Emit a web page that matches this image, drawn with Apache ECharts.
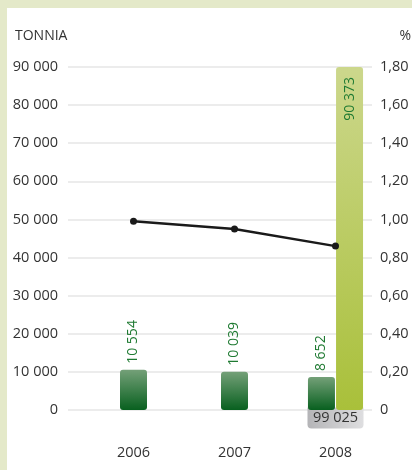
<!DOCTYPE html>
<html>
<head>
<meta charset="utf-8">
<script src="https://cdn.jsdelivr.net/npm/echarts@6/dist/echarts.min.js"></script>
<style>
  html, body { margin: 0; padding: 0; background: #e4e9c9; }
  #chart { position: absolute; left: 7px; top: 8px; width: 405px; height: 462px; background: #fff; }
</style>
</head>
<body>
<div id="chart"></div>
<script>
// data
var years = ['2006', '2007', '2008'];
var tonnes = [10554, 10039, 8652];
var tonnesOther = [null, null, 90373];
var percent = [0.99, 0.95, 0.86];
var tonTicks = { min: 0, max: 90000, step: 10000 };
var pctTicks = { min: 0, max: 1.8, step: 0.2 };

var font = 'Open Sans';
var txt = '#333';
var green = '#1f7a32';

function fmtTon(v) {
    return String(v).replace(/\B(?=(\d{3})+(?!\d))/g, ' ');
}
function fmtPct(v) {
    if (v === 0) return '0';
    return v.toFixed(2).replace('.', ',');
}

var total = tonnes[2] + tonnesOther[2];

var chart = echarts.init(document.getElementById('chart'));

var darkGrad = new echarts.graphic.LinearGradient(0, 0, 0, 1, [
    { offset: 0, color: '#74a078' },
    { offset: 1, color: '#08601f' }
]);
var lightGrad = new echarts.graphic.LinearGradient(0, 0, 0, 1, [
    { offset: 0, color: '#ccd78c' },
    { offset: 1, color: '#a9c03a' }
]);
var greyGrad = new echarts.graphic.LinearGradient(0, 0, 1, 0, [
    { offset: 0, color: '#b4b4b7' },
    { offset: 1, color: '#dedee0' }
]);

var barLabel = {
    show: true, position: 'top', rotate: 90, align: 'left', verticalAlign: 'middle',
    distance: 6, color: green, fontSize: 14, fontFamily: font,
    formatter: function (p) { return fmtTon(p.value); }
};

var option = {
    animation: false,
    textStyle: { fontFamily: font },
    graphic: [
        { type: 'text', left: 8, top: 21, style: { text: 'TONNIA', font: '14px "Open Sans"', fill: txt } },
        { type: 'text', right: 1, top: 21, style: { text: '%', font: '14px "Open Sans"', fill: txt } }
    ],
    grid: [
        { left: 61, right: 40, top: 59, bottom: 60 },
        { left: 76, right: 26, top: 59, bottom: 60 }
    ],
    xAxis: [
        { type: 'category', gridIndex: 0, data: years, show: false },
        {
            type: 'category', gridIndex: 1, data: years, position: 'bottom',
            axisLine: { show: false }, axisTick: { show: false },
            axisLabel: { margin: 35, color: txt, fontSize: 14.5, fontFamily: font }
        },
        { type: 'category', gridIndex: 1, data: years, position: 'bottom', show: false },
        {
            type: 'category', gridIndex: 1, data: years, position: 'bottom',
            axisLine: { show: false }, axisTick: { show: false },
            axisLabel: {
                margin: 0, interval: 0,
                formatter: function (v, i) {
                    return i === 2 ? '{t|' + fmtTon(total) + '}' : '';
                },
                rich: {
                    t: {
                        fontFamily: font, fontSize: 14.5, color: txt,
                        lineHeight: 16, width: 56, align: 'center',
                        padding: [3, 0, 3, 0],
                        backgroundColor: greyGrad,
                        borderRadius: [0, 0, 4, 4]
                    }
                }
            }
        }
    ],
    yAxis: [
        {
            type: 'value', gridIndex: 0, min: tonTicks.min, max: tonTicks.max, interval: tonTicks.step,
            axisLine: { show: false }, axisTick: { show: false },
            axisLabel: { margin: 10, color: txt, fontSize: 14.5, fontFamily: font, formatter: fmtTon },
            splitLine: { lineStyle: { color: '#e6e6e6', width: 1.5 } }
        },
        {
            type: 'value', gridIndex: 0, position: 'right',
            min: pctTicks.min, max: pctTicks.max, interval: pctTicks.step,
            axisLine: { show: false }, axisTick: { show: false },
            axisLabel: { margin: 8, color: txt, fontSize: 14.5, fontFamily: font, formatter: fmtPct },
            splitLine: { show: false }
        },
        { type: 'value', gridIndex: 1, min: tonTicks.min, max: tonTicks.max, show: false, splitLine: { show: false } },
        { type: 'value', gridIndex: 1, min: pctTicks.min, max: pctTicks.max, show: false, splitLine: { show: false } }
    ],
    series: [
        {
            type: 'bar', xAxisIndex: 1, yAxisIndex: 2, barWidth: 27,
            data: tonnes.map(function (v, i) { return i < 2 ? v : '-'; }),
            itemStyle: { color: darkGrad, borderRadius: 3 },
            label: barLabel
        },
        {
            type: 'bar', xAxisIndex: 2, yAxisIndex: 2, barWidth: 27, barGap: '4%',
            data: tonnes.map(function (v, i) { return i === 2 ? v : '-'; }),
            itemStyle: { color: darkGrad, borderRadius: 3 },
            label: barLabel
        },
        {
            type: 'bar', xAxisIndex: 2, yAxisIndex: 2, barWidth: 27,
            data: tonnesOther.map(function (v) { return v === null ? '-' : v; }),
            itemStyle: { color: lightGrad, borderRadius: 3 },
            label: {
                show: true, position: 'insideTop', rotate: 90, align: 'right', verticalAlign: 'middle',
                distance: 10, color: green, fontSize: 14, fontFamily: font,
                formatter: function (p) { return fmtTon(p.value); }
            }
        },
        {
            type: 'line', xAxisIndex: 1, yAxisIndex: 3, data: percent, z: 5,
            symbol: 'circle', symbolSize: 7,
            lineStyle: { color: '#1a1a1a', width: 2.5 },
            itemStyle: { color: '#1a1a1a' }
        }
    ]
};

chart.setOption(option);
window.addEventListener('resize', chart.resize);
</script>
</body>
</html>
